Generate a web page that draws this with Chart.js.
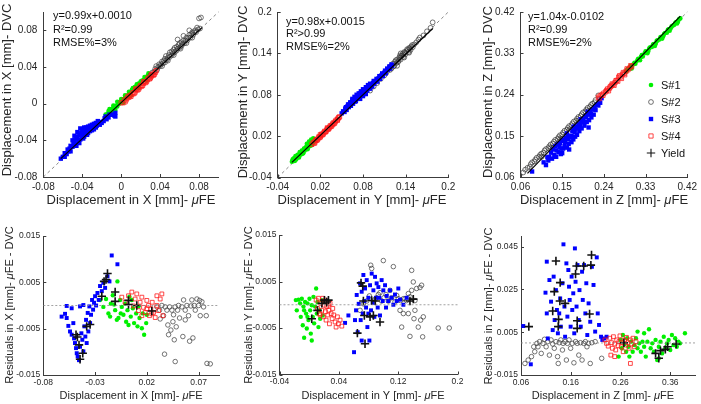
<!DOCTYPE html>
<html>
<head>
<meta charset="utf-8">
<script src="https://cdn.jsdelivr.net/npm/chart.js@4.4.1/dist/chart.umd.min.js"></script>
<style>
  html, body { margin: 0; padding: 0; background: #fff; }
  #wrap { position: relative; width: 701px; height: 404px; overflow: hidden; }
  #wrap canvas { position: absolute; left: 0; top: 0; }
</style>
</head>
<body>
<div id="wrap"></div>
<script>
// ---- tick labels ----
const fitXTicks = [-0.08, -0.04, 0, 0.04, 0.08];
const fitYTicks = [-0.04, 0.02, 0.08, 0.14, 0.2];
const fitZTicks = [0.06, 0.15, 0.24, 0.33, 0.42];
const resXTicksX = [-0.08, -0.03, 0.02, 0.07];
const resYTicksX = [-0.04, 0.04, 0.12, 0.2];
const resZTicksX = [0.06, 0.16, 0.26, 0.36];
const resTicksY = [-0.015, -0.005, 0.005, 0.015];
const resZTicksY = [-0.015, 0.005, 0.025, 0.045];

// ---- legend / annotation text ----
const seriesNames = ['S#1', 'S#2', 'S#3', 'S#4', 'Yield'];
const fitXNotes = ['y=0.99x+0.0010', 'R\u00B2=0.99', 'RMSE%=3%'];
const fitYNotes = ['y=0.98x+0.0015', 'R\u00B2>0.99', 'RMSE%=2%'];
const fitZNotes = ['y=1.04x-0.0102', 'R\u00B2=0.99', 'RMSE%=2%'];

// ---- top row: DVC vs muFE, X ----
const fitX_s1 = [[-0.016,-0.012],[-0.014,-0.011],[-0.013,-0.008],[-0.011,-0.009],[-0.010,-0.006],[-0.009,-0.008],[-0.008,-0.004],[-0.006,-0.004],[-0.005,-0.002],[-0.004,-0.003],[-0.003,0.001],[-0.002,0.000],[0.000,0.003],[0.001,0.002],[0.002,0.005],[0.004,0.006],[0.005,0.008],[0.007,0.009],[0.008,0.011],[0.010,0.012],[0.011,0.015],[0.013,0.016],[0.014,0.018],[0.016,0.019],[0.018,0.022],[0.019,0.021],[0.021,0.025],[0.023,0.026],[0.025,0.028],[0.027,0.030],[0.029,0.031],
  [-0.012,-0.006],[-0.008,-0.002],[-0.004,0.002],[0.000,0.005],[0.004,0.009],[0.008,0.013],[0.012,0.017],[0.016,0.021],[0.020,0.024],[0.024,0.029],[0.028,0.033],[-0.006,-0.007],[0.002,0.001],[0.010,0.009],[0.018,0.017],[0.026,0.025]];
const fitX_s2 = [[0.030,0.031],[0.032,0.034],[0.034,0.035],[0.035,0.038],[0.037,0.037],[0.038,0.040],[0.040,0.041],[0.041,0.043],[0.043,0.044],[0.044,0.047],[0.045,0.045],[0.046,0.052],[0.047,0.048],[0.048,0.050],[0.050,0.051],[0.050,0.056],[0.052,0.053],[0.053,0.055],[0.055,0.056],[0.055,0.061],[0.057,0.058],[0.058,0.060],[0.060,0.061],[0.060,0.066],[0.062,0.063],[0.063,0.065],[0.065,0.066],[0.066,0.069],[0.068,0.069],[0.069,0.072],[0.071,0.072],[0.072,0.076],[0.074,0.075],[0.075,0.078],[0.077,0.078],[0.079,0.081],[0.080,0.093],[0.082,0.094],[0.081,0.082],
  [0.036,0.041],[0.039,0.043],[0.042,0.046],[0.045,0.049],[0.049,0.053],[0.052,0.057],[0.054,0.059],[0.057,0.062],[0.059,0.064],[0.062,0.067],[0.064,0.069],[0.067,0.072],[0.070,0.075],[0.073,0.078],[0.076,0.080],[0.078,0.083],[0.042,0.041],[0.048,0.047],[0.054,0.053],[0.061,0.060],[0.067,0.066],[0.073,0.072],[0.070,0.080],[0.064,0.074],[0.058,0.070]];
const fitX_s3 = [[-0.062,-0.060],[-0.060,-0.058],[-0.058,-0.054],[-0.056,-0.055],[-0.055,-0.050],[-0.053,-0.049],[-0.052,-0.046],[-0.050,-0.047],[-0.049,-0.043],[-0.048,-0.040],[-0.047,-0.044],[-0.046,-0.038],[-0.045,-0.036],[-0.044,-0.041],[-0.043,-0.034],[-0.042,-0.039],[-0.041,-0.032],[-0.040,-0.035],[-0.039,-0.031],[-0.038,-0.036],[-0.037,-0.030],[-0.036,-0.033],[-0.035,-0.029],[-0.034,-0.032],[-0.033,-0.028],[-0.032,-0.030],[-0.031,-0.027],[-0.030,-0.029],[-0.029,-0.026],[-0.028,-0.028],[-0.027,-0.025],[-0.026,-0.026],[-0.025,-0.024],[-0.024,-0.022],[-0.022,-0.023],[-0.021,-0.020],[-0.020,-0.021],[-0.018,-0.019],[-0.017,-0.016],[-0.015,-0.017],[-0.013,-0.015],[-0.010,-0.012],[-0.007,-0.013],[-0.006,-0.010],
  [-0.045,-0.031],[-0.042,-0.027],[-0.040,-0.028],[-0.038,-0.026],[-0.036,-0.026],[-0.034,-0.025],[-0.032,-0.024],[-0.030,-0.023],[-0.028,-0.022],[-0.026,-0.021],[-0.024,-0.019],[-0.048,-0.035],[-0.050,-0.040],[-0.054,-0.052],[-0.058,-0.058],[-0.052,-0.052],[-0.046,-0.046],[-0.043,-0.043],[-0.039,-0.038],[-0.035,-0.034],[-0.016,-0.014],[-0.012,-0.012],[-0.008,-0.012],[-0.006,-0.014]];
const fitX_s4 = [[0.000,0.001],[0.002,0.001],[0.003,0.004],[0.005,0.004],[0.006,0.006],[0.008,0.007],[0.009,0.009],[0.011,0.010],[0.012,0.012],[0.013,0.011],[0.015,0.014],[0.016,0.016],[0.017,0.015],[0.019,0.018],[0.020,0.020],[0.021,0.019],[0.023,0.022],[0.024,0.024],[0.025,0.023],[0.027,0.026],[0.028,0.028],[0.029,0.027],[0.031,0.030],[0.032,0.032],[0.033,0.031],[0.035,0.034],[0.036,0.036],
  [0.004,0.002],[0.010,0.008],[0.014,0.012],[0.018,0.016],[0.022,0.020],[0.026,0.024],[0.030,0.028],[0.034,0.032],[0.007,0.008],[0.015,0.016],[0.023,0.024],[0.031,0.032]];
const fitX_line = [[-0.062,-0.060],[0.083,0.083]];
const fitX_unity = [[-0.08,-0.08],[0.1,0.1]];

// ---- top row: Y ----
const fitY_s1 = [[-0.020,-0.017],[-0.019,-0.014],[-0.018,-0.016],[-0.017,-0.012],[-0.016,-0.013],[-0.015,-0.011],[-0.014,-0.014],[-0.013,-0.009],[-0.012,-0.011],[-0.011,-0.008],[-0.010,-0.009],[-0.009,-0.005],[-0.008,-0.007],[-0.007,-0.004],[-0.006,-0.006],[-0.005,-0.002],[-0.004,-0.003],[-0.003,0.000],[-0.002,-0.001],[-0.001,0.003],[0.000,0.001],[0.001,0.004],[0.002,0.002],[0.003,0.006],[0.004,0.005],[0.005,0.008],[0.006,0.006],[0.007,0.010],[0.008,0.009],[0.009,0.012],[0.010,0.011],[0.012,0.014],
  [-0.018,-0.013],[-0.015,-0.009],[-0.012,-0.007],[-0.009,-0.003],[-0.006,-0.001],[-0.003,0.002],[0.000,0.004],[0.003,0.008],[0.006,0.010],[0.009,0.014],[-0.016,-0.016],[-0.010,-0.011],[-0.004,-0.005],[0.002,0.001],[0.008,0.007],[0.004,0.012],[0.007,0.015],[0.010,0.017],[0.001,0.009]];
const fitY_s2 = [[0.090,0.086],[0.095,0.092],[0.100,0.097],[0.105,0.103],[0.110,0.108],[0.113,0.112],[0.116,0.117],[0.118,0.121],[0.120,0.118],[0.122,0.125],[0.124,0.122],[0.125,0.128],[0.127,0.126],[0.128,0.131],[0.130,0.129],[0.131,0.134],[0.132,0.137],[0.133,0.131],[0.135,0.137],[0.136,0.140],[0.137,0.135],[0.138,0.142],[0.140,0.139],[0.141,0.143],[0.142,0.146],[0.144,0.142],[0.145,0.148],[0.147,0.145],[0.148,0.150],[0.150,0.149],[0.152,0.153],[0.155,0.156],[0.160,0.163],[0.165,0.166],[0.175,0.177],[0.178,0.185],
  [0.118,0.116],[0.123,0.121],[0.126,0.130],[0.129,0.127],[0.132,0.133],[0.134,0.136],[0.137,0.138],[0.139,0.141],[0.143,0.145],[0.146,0.147],[0.149,0.152],[0.128,0.122],[0.138,0.134],[0.145,0.141],[0.133,0.140],[0.158,0.160],[0.170,0.172]];
const fitY_s3 = [[0.050,0.053],[0.052,0.056],[0.054,0.055],[0.055,0.060],[0.057,0.058],[0.058,0.063],[0.060,0.062],[0.061,0.066],[0.063,0.064],[0.064,0.069],[0.065,0.072],[0.066,0.067],[0.068,0.073],[0.069,0.070],[0.070,0.076],[0.072,0.074],[0.073,0.078],[0.075,0.077],[0.076,0.082],[0.078,0.080],[0.079,0.084],[0.080,0.078],[0.082,0.086],[0.083,0.083],[0.085,0.088],[0.086,0.086],[0.088,0.091],[0.089,0.089],[0.091,0.094],[0.093,0.092],[0.094,0.097],[0.096,0.096],[0.098,0.100],[0.100,0.099],[0.102,0.104],[0.104,0.103],[0.106,0.108],[0.108,0.107],[0.110,0.112],[0.112,0.111],[0.115,0.116],[0.118,0.118],[0.121,0.122],
  [0.056,0.062],[0.059,0.066],[0.062,0.069],[0.065,0.074],[0.068,0.077],[0.071,0.080],[0.074,0.082],[0.077,0.085],[0.080,0.088],[0.084,0.091],[0.087,0.094],[0.090,0.096],[0.095,0.100],[0.099,0.103],[0.103,0.107],[0.107,0.111],[0.111,0.115],[0.114,0.118],[0.117,0.121],[0.120,0.124],[0.070,0.071],[0.080,0.080],[0.090,0.089],[0.084,0.081],[0.076,0.074]];
const fitY_s4 = [[0.008,0.008],[0.010,0.011],[0.011,0.010],[0.013,0.013],[0.014,0.015],[0.015,0.014],[0.017,0.017],[0.018,0.019],[0.019,0.018],[0.021,0.021],[0.022,0.023],[0.023,0.022],[0.025,0.025],[0.026,0.027],[0.027,0.026],[0.029,0.029],[0.030,0.031],[0.031,0.030],[0.033,0.033],[0.034,0.035],[0.035,0.034],[0.037,0.037],[0.038,0.039],[0.039,0.038],[0.041,0.041],[0.042,0.043],[0.044,0.044],[0.045,0.046],[0.047,0.048],
  [0.012,0.010],[0.016,0.015],[0.020,0.019],[0.024,0.023],[0.028,0.027],[0.032,0.031],[0.036,0.035],[0.040,0.039],[0.044,0.043],[0.046,0.047],[0.020,0.022],[0.030,0.032]];
const fitY_line = [[-0.020,-0.018],[0.178,0.176]];
const fitY_unity = [[-0.04,-0.04],[0.2,0.2]];

// ---- top row: Z ----
const fitZ_s1 = [[0.288,0.290],[0.292,0.296],[0.296,0.297],[0.300,0.301],[0.304,0.306],[0.308,0.307],[0.312,0.314],[0.316,0.316],[0.320,0.322],[0.324,0.323],[0.328,0.330],[0.332,0.333],[0.336,0.335],[0.340,0.343],[0.344,0.344],[0.348,0.350],[0.352,0.351],[0.356,0.358],[0.360,0.360],[0.364,0.366],[0.368,0.367],[0.372,0.374],[0.376,0.375],[0.380,0.382],[0.384,0.384],[0.388,0.390],[0.392,0.392],[0.396,0.398],[0.400,0.399],[0.405,0.406],
  [0.290,0.293],[0.298,0.302],[0.306,0.309],[0.314,0.318],[0.322,0.326],[0.330,0.334],[0.338,0.341],[0.346,0.349],[0.354,0.357],[0.362,0.365],[0.370,0.372],[0.378,0.381],[0.386,0.388],[0.394,0.396],[0.402,0.404],[0.300,0.297],[0.318,0.315],[0.334,0.330],[0.350,0.346],[0.366,0.362],[0.382,0.379],[0.398,0.395]];
const fitZ_s2 = [[0.066,0.070],[0.075,0.080],[0.080,0.082],[0.085,0.092],[0.090,0.094],[0.095,0.102],[0.100,0.104],[0.105,0.111],[0.110,0.113],[0.115,0.121],[0.120,0.123],[0.125,0.131],[0.130,0.133],[0.135,0.141],[0.140,0.143],[0.145,0.151],[0.150,0.153],[0.155,0.161],[0.160,0.163],[0.165,0.171],[0.170,0.173],[0.175,0.181],[0.180,0.183],[0.185,0.191],[0.190,0.193],[0.195,0.201],[0.200,0.203],[0.205,0.211],[0.210,0.213],[0.215,0.220],[0.220,0.223],[0.228,0.238],
  [0.070,0.076],[0.082,0.088],[0.092,0.098],[0.102,0.108],[0.112,0.118],[0.122,0.127],[0.132,0.137],[0.142,0.147],[0.152,0.157],[0.162,0.167],[0.172,0.177],[0.182,0.187],[0.192,0.197],[0.202,0.207],[0.212,0.217],[0.222,0.228],[0.106,0.104],[0.126,0.124],[0.146,0.144],[0.166,0.164],[0.186,0.184],[0.206,0.204]];
const fitZ_s3 = [[0.085,0.072],[0.110,0.092],[0.115,0.086],[0.118,0.103],[0.122,0.104],[0.126,0.113],[0.128,0.100],[0.130,0.120],[0.133,0.108],[0.135,0.127],[0.137,0.104],[0.140,0.131],[0.142,0.114],[0.145,0.134],[0.147,0.110],[0.150,0.139],[0.150,0.112],[0.152,0.122],[0.154,0.142],[0.155,0.128],[0.158,0.145],[0.160,0.124],[0.162,0.150],[0.164,0.132],[0.165,0.120],[0.166,0.148],[0.168,0.146],[0.170,0.136],[0.172,0.160],[0.174,0.142],[0.176,0.163],[0.178,0.148],[0.180,0.170],[0.182,0.152],[0.185,0.175],[0.187,0.160],[0.190,0.180],[0.192,0.166],[0.195,0.186],[0.198,0.172],[0.200,0.192],[0.203,0.180],[0.205,0.196],[0.207,0.168],[0.208,0.184],[0.210,0.202],[0.213,0.190],[0.215,0.207],[0.218,0.196],[0.220,0.212],[0.225,0.218],[0.230,0.226],[0.235,0.232],
  [0.120,0.096],[0.138,0.118],[0.144,0.126],[0.148,0.122],[0.156,0.136],[0.163,0.142],[0.170,0.150],[0.177,0.158],[0.184,0.166],[0.189,0.172],[0.196,0.180],[0.202,0.190],[0.212,0.198],[0.222,0.206],[0.228,0.216],[0.232,0.222],[0.160,0.155],[0.175,0.170],[0.190,0.186],[0.205,0.202]];
const fitZ_s4 = [[0.228,0.234],[0.232,0.237],[0.236,0.240],[0.240,0.243],[0.244,0.246],[0.248,0.252],[0.252,0.254],[0.256,0.259],[0.260,0.262],[0.262,0.260],[0.264,0.266],[0.268,0.271],[0.270,0.269],[0.272,0.278],[0.276,0.278],[0.280,0.284],[0.284,0.286],[0.285,0.283],[0.288,0.291],[0.292,0.294],[0.296,0.298],[0.300,0.301],
  [0.230,0.231],[0.238,0.238],[0.246,0.249],[0.254,0.257],[0.258,0.263],[0.266,0.270],[0.274,0.281],[0.282,0.288],[0.290,0.296],[0.298,0.303],[0.250,0.248],[0.278,0.275]];
const fitZ_line = [[0.075,0.068],[0.405,0.411]];
const fitZ_unity = [[0.06,0.06],[0.42,0.42]];

// ---- bottom row: residuals X ----
const resX_s1 = [[-0.0252,0.0012],[-0.022,-0.0003],[-0.0194,0.0014],[-0.0171,-0.0017],[-0.0155,-0.0024],[-0.0148,0.0004],[-0.0129,0.0022],[-0.0116,0.0002],[-0.0106,-0.001],[-0.009,-0.0031],[-0.0084,0.0052],[-0.0074,-0.0027],[-0.0058,0.0012],[-0.0052,-0.0017],[-0.0042,-0.0003],[-0.0026,-0.002],[-0.001,0.0004],[0.0,-0.0035],[0.0013,-0.001],[0.0023,-0.0042],[0.0032,0.0019],[0.0045,-0.0024],[0.0055,0.0012],[0.0065,-0.0006],[0.0077,-0.0038],[0.0097,-0.0017],[0.011,-0.0045],[0.012,-0.0002],[0.0129,-0.0027],[0.0152,-0.0049],[0.0161,-0.0017],[0.0174,-0.0063],[0.0194,-0.0038],[0.02,-0.002]];
const resX_s2 = [[0.0297,-0.0003],[0.0323,-0.001],[0.0329,-0.0029],[0.0345,0.0],[0.0361,-0.0022],[0.0371,-0.0105],[0.0377,-0.0003],[0.0394,-0.001],[0.0403,-0.0042],[0.041,-0.0063],[0.042,-0.0003],[0.0432,-0.0053],[0.0442,-0.001],[0.0452,-0.0035],[0.0458,-0.002],[0.0465,-0.0074],[0.0474,-0.0003],[0.0474,-0.0121],[0.0484,-0.0046],[0.0497,-0.001],[0.0506,0.0],[0.0516,-0.0027],[0.0539,-0.0003],[0.0548,-0.0067],[0.0555,0.0012],[0.0571,-0.001],[0.0571,-0.0031],[0.0587,0.0],[0.0603,-0.0022],[0.0613,-0.0077],[0.0626,-0.0001],[0.0635,0.0012],[0.0645,-0.007],[0.0658,0.0],[0.0668,-0.001],[0.0684,0.0014],[0.07,0.0],[0.071,0.0011],[0.0716,-0.0022],[0.0732,0.0008],[0.0748,-0.0003],[0.0774,-0.0022],[0.0781,-0.0125],[0.0813,-0.0126]];
const resX_s3 = [[-0.0623,-0.0024],[-0.059,-0.0018],[-0.0574,-0.0027],[-0.0574,-0.0001],[-0.0558,-0.0044],[-0.0542,-0.0056],[-0.0526,-0.0063],[-0.0526,-0.0006],[-0.051,-0.0038],[-0.0503,-0.0071],[-0.0494,-0.0081],[-0.0484,-0.0092],[-0.0477,-0.0103],[-0.0468,-0.011],[-0.0455,-0.0118],[-0.0445,-0.0089],[-0.0445,-0.0002],[-0.0432,-0.006],[-0.0423,-0.0074],[-0.0413,-0.0099],[-0.0413,0.0001],[-0.0403,-0.0045],[-0.0394,-0.0067],[-0.0387,-0.0031],[-0.0381,-0.0081],[-0.0371,-0.0016],[-0.0365,-0.0056],[-0.0355,-0.0002],[-0.0348,-0.0038],[-0.0339,-0.002],[-0.0329,0.0012],[-0.0319,-0.0009],[-0.031,0.0006],[-0.03,0.002],[-0.029,0.0],[-0.0277,0.0027],[-0.0265,0.0012],[-0.0252,0.0042],[-0.0235,0.0031],[-0.022,0.0049],[-0.0203,0.0038],[-0.018,0.0063],[-0.0161,0.0052],[-0.0139,0.0108],[-0.0084,0.0089]];
const resX_s4 = [[-0.0042,0.0018],[-0.001,0.0007],[0.0023,0.0021],[0.0055,0.0029],[0.0071,-0.0001],[0.0087,0.0014],[0.0103,0.0025],[0.0119,-0.0011],[0.0135,0.0007],[0.0152,0.0018],[0.0152,-0.0022],[0.0168,-0.0004],[0.0184,-0.0015],[0.02,0.0011],[0.02,-0.0007],[0.0216,0.0],[0.0226,-0.0022],[0.0239,-0.0007],[0.0248,-0.0018],[0.0252,0.0007],[0.0265,-0.0015],[0.0281,-0.0026],[0.0297,0.0],[0.0297,0.0021],[0.0313,-0.0011],[0.0329,0.0014],[0.0345,0.0025],[0.0355,-0.0022]];
const resX_yield = [[-0.0484,-0.0063],[-0.0471,-0.0068],[-0.0455,-0.0085],[-0.0445,-0.0116],[-0.0419,-0.0103],[-0.0381,-0.0045],[-0.0348,-0.0041],[-0.0235,0.002],[-0.0213,0.0052],[-0.0194,0.0056],[-0.018,0.0069],[-0.0106,0.0029],[-0.0106,0.0009],[0.0023,0.0011],[0.0023,0.0002],[0.0103,0.0],[0.0248,-0.0012]];
const resX_zero = [[-0.08,0],[0.09,0]];

// ---- bottom row: residuals Y ----
const resY_s1 = [[-0.018,0.001],[-0.0167,-0.0012],[-0.0144,0.0011],[-0.0122,0.0003],[-0.0113,-0.0026],[-0.0099,0.0013],[-0.0086,-0.0044],[-0.0077,-0.0004],[-0.0068,-0.0071],[-0.0068,-0.0012],[-0.0055,0.0006],[-0.0041,-0.0019],[-0.0032,-0.0051],[-0.0023,0.0003],[-0.0023,-0.0026],[-0.001,-0.0033],[0.0004,0.0013],[0.0013,-0.0012],[0.0022,-0.0062],[0.0035,-0.0001],[0.0035,-0.0077],[0.0049,-0.0026],[0.0058,0.0017],[0.0067,-0.004],[0.008,-0.0004],[0.0094,0.0035],[0.0103,-0.0019],[0.0112,0.0006],[0.0125,-0.0048],[0.0139,-0.0012],[0.0148,-0.003],[0.017,0.001],[0.0183,-0.0023]];
const resY_s2 = [[0.0686,-0.0012],[0.0731,0.0002],[0.0776,0.0008],[0.0812,0.0019],[0.083,0.0085],[0.0843,0.0078],[0.0866,0.0008],[0.0888,0.0012],[0.091,0.0015],[0.0933,0.0022],[0.0955,0.0026],[0.0977,0.0008],[0.1,0.0095],[0.1009,0.0015],[0.1036,0.0022],[0.1067,0.0008],[0.109,0.0031],[0.1112,0.0015],[0.1135,0.0082],[0.1157,0.0006],[0.118,0.002],[0.1202,0.0013],[0.1225,-0.0012],[0.1234,0.0009],[0.1247,-0.0048],[0.127,0.0013],[0.127,-0.0019],[0.1292,0.0013],[0.1314,0.0009],[0.1337,0.0024],[0.1337,-0.0019],[0.1359,0.0017],[0.1359,-0.0068],[0.1382,0.0074],[0.1382,0.0031],[0.1404,0.0049],[0.1413,-0.003],[0.1426,0.0009],[0.1426,-0.0012],[0.1449,0.0035],[0.1471,-0.0048],[0.1494,0.0037],[0.1503,-0.0033],[0.1516,0.0042],[0.153,-0.0069],[0.1539,-0.0026],[0.174,-0.005],[0.1889,-0.005]];
const resY_s3 = [[0.0484,-0.0039],[0.0529,-0.0023],[0.0605,-0.0102],[0.0618,-0.0033],[0.0632,-0.0012],[0.0641,0.0021],[0.0654,-0.0059],[0.0668,0.0002],[0.0686,0.0046],[0.0695,-0.0033],[0.0708,0.0028],[0.0708,-0.0077],[0.0722,-0.0019],[0.0731,0.0064],[0.0744,0.0008],[0.0753,0.0035],[0.0767,-0.0006],[0.0776,0.0053],[0.0785,-0.0048],[0.0798,0.0015],[0.0798,-0.0019],[0.0812,-0.0077],[0.0821,0.0042],[0.0834,-0.0012],[0.0843,0.0067],[0.0857,0.0004],[0.0866,0.0031],[0.0879,-0.0026],[0.0888,0.006],[0.0901,0.0015],[0.091,0.0046],[0.0924,-0.0006],[0.0933,0.0038],[0.0946,0.0015],[0.0955,-0.0023],[0.0977,0.0053],[0.0991,0.0008],[0.1,0.0031],[0.1023,0.0042],[0.1036,-0.0006],[0.1045,0.0019],[0.1067,0.0008],[0.109,0.0031],[0.1112,0.0015],[0.1135,0.0],[0.1157,0.0022],[0.118,0.0008],[0.1202,0.0035],[0.1225,0.0011],[0.127,0.0],[0.1314,0.0015]];
const resY_s4 = [[0.0094,0.001],[0.0112,-0.0008],[0.0125,0.0014],[0.0139,-0.0019],[0.0148,-0.0022],[0.0156,0.0003],[0.017,-0.0012],[0.0183,0.0014],[0.0192,-0.0026],[0.0206,-0.0001],[0.0215,0.001],[0.0219,-0.0015],[0.0228,-0.0033],[0.0237,-0.0004],[0.0251,-0.0022],[0.026,-0.0001],[0.0264,-0.0012],[0.0273,-0.0041],[0.0282,0.0003],[0.0296,-0.0019],[0.031,-0.003],[0.0318,-0.0008],[0.0332,-0.0022],[0.035,-0.0037],[0.0363,-0.0048],[0.0381,-0.0026],[0.0394,-0.0041],[0.0417,-0.0033],[0.044,-0.0046]];
const resY_yield = [[0.0035,-0.003],[0.0112,-0.0012],[0.017,0.0003],[0.0206,0.001],[0.0237,0.0006],[0.026,0.001],[0.065,-0.0061],[0.0699,0.0047],[0.0722,0.004],[0.0731,0.0008],[0.0744,-0.0023],[0.0753,-0.0084],[0.0821,-0.0026],[0.0843,0.0009],[0.0866,-0.0023],[0.0892,0.0008],[0.0955,-0.0037],[0.1359,0.0008],[0.1404,0.0012]];
const resY_zero = [[-0.04,0],[0.2,0]];

// ---- bottom row: residuals Z ----
const resZ_s1 = [[0.2562,-0.0064],[0.2601,0.0014],[0.2627,-0.0025],[0.2647,0.0037],[0.268,-0.0005],[0.2713,-0.0041],[0.2733,0.0022],[0.2759,-0.0018],[0.2778,-0.0064],[0.2811,0.0006],[0.2844,-0.0041],[0.2877,-0.001],[0.291,0.0022],[0.2942,-0.0025],[0.2942,0.0053],[0.2975,-0.0002],[0.3008,-0.0041],[0.3041,0.0006],[0.3074,-0.0018],[0.3074,0.0045],[0.3107,-0.0064],[0.3139,0.0006],[0.3172,0.0064],[0.3205,-0.0025],[0.3238,-0.0002],[0.3271,-0.0041],[0.3304,0.0014],[0.3336,-0.008],[0.3369,-0.0018],[0.3369,-0.0072],[0.3402,0.0006],[0.3435,-0.0049],[0.3468,0.0029],[0.35,-0.0025],[0.3533,-0.0002],[0.3566,0.0014],[0.3599,-0.0033],[0.3632,0.0037],[0.3664,-0.001],[0.3697,0.0022],[0.373,-0.0018],[0.3763,0.0006],[0.3796,-0.0002],[0.3894,0.0045]];
const resZ_s2 = [[0.0679,-0.0096],[0.0744,-0.008],[0.081,-0.0064],[0.0856,-0.0018],[0.0876,-0.0041],[0.0921,-0.0002],[0.0941,-0.0018],[0.0974,0.0006],[0.1007,-0.0049],[0.104,-0.0002],[0.1072,0.0017],[0.1105,-0.0018],[0.1138,0.0006],[0.1171,-0.0057],[0.1204,0.0014],[0.1237,-0.0005],[0.1269,-0.0025],[0.1302,0.0006],[0.1335,-0.0064],[0.1348,-0.0096],[0.1368,0.0001],[0.14,0.0014],[0.1433,-0.0033],[0.1446,-0.0002],[0.1486,0.0006],[0.1512,-0.008],[0.1532,-0.0002],[0.1565,0.0014],[0.1597,-0.0025],[0.163,-0.0002],[0.1663,-0.0093],[0.1696,0.0006],[0.1729,-0.0002],[0.1761,-0.0057],[0.1794,0.0001],[0.1827,-0.008],[0.186,-0.0002],[0.1893,0.0006],[0.1925,-0.0018],[0.1958,-0.0002],[0.1991,-0.0096],[0.2024,0.0001],[0.209,0.0006],[0.2221,-0.0072]];
const resZ_s3 = [[0.0646,0.0079],[0.0797,-0.01],[0.1092,0.0235],[0.1118,0.038],[0.1118,0.0138],[0.1138,0.0021],[0.1171,0.0294],[0.1204,0.0193],[0.1237,0.006],[0.1256,0.031],[0.1276,0.0107],[0.1302,0.0247],[0.1322,0.0154],[0.1341,0.0045],[0.1368,0.0138],[0.1387,0.0208],[0.14,0.0076],[0.1433,0.0279],[0.1453,0.0461],[0.1473,0.017],[0.1486,0.0029],[0.1512,0.0372],[0.1532,0.0123],[0.1551,0.0341],[0.1565,0.0263],[0.1578,0.0201],[0.1597,0.0076],[0.1617,0.031],[0.163,0.0154],[0.165,0.0232],[0.167,0.0045],[0.1683,0.0442],[0.1696,0.0286],[0.1716,0.017],[0.1735,0.0364],[0.1761,0.0107],[0.1775,0.0247],[0.1801,0.0076],[0.1827,0.0333],[0.1841,0.0201],[0.1867,0.0364],[0.1893,0.0138],[0.1912,0.0279],[0.1932,0.0037],[0.1958,0.0185],[0.1991,0.0099],[0.2024,0.0356],[0.2057,0.0271],[0.209,0.0053],[0.2122,0.04],[0.2142,0.0138],[0.2168,0.0084],[0.2208,0.0029],[0.2234,0.0014],[0.2273,0.0021],[0.2319,0.0029]];
const resZ_s4 = [[0.2286,0.0014],[0.2319,-0.0002],[0.2352,-0.0015],[0.2385,0.0022],[0.2405,-0.0057],[0.2418,0.0001],[0.2437,-0.0025],[0.2457,0.0029],[0.2483,-0.0005],[0.2483,-0.0064],[0.2503,-0.0033],[0.2523,0.0014],[0.2549,-0.0013],[0.2568,0.0006],[0.2588,0.0033],[0.2614,-0.0018],[0.2634,0.0001],[0.2654,-0.0041],[0.268,0.0014],[0.27,-0.001],[0.2719,0.0026],[0.2746,0.0001],[0.2772,-0.0025],[0.2798,0.0014],[0.2798,-0.0096],[0.2824,-0.0005],[0.285,0.0022],[0.2877,-0.0018],[0.291,0.0006]];
const resZ_yield = [[0.0757,0.0076],[0.1237,0.0149],[0.1269,0.024],[0.1302,0.0383],[0.1348,0.0076],[0.1355,0.011],[0.1381,0.0196],[0.1387,0.0282],[0.1486,0.0185],[0.1696,0.0322],[0.1716,0.036],[0.1729,0.0104],[0.1729,0.0068],[0.186,0.036],[0.1978,0.0135],[0.2004,0.0364],[0.2017,0.0411],[0.2667,0.0001],[0.3304,-0.0049],[0.3369,-0.0072],[0.3402,-0.0036],[0.35,-0.003],[0.3546,-0.0018],[0.3717,-0.0005]];
const resZ_zero = [[0.06,0],[0.41,0]];

// ---- drawing ----
const W = 701, H = 404;
const YBOX = 40, XBOX = 24;   // room kept for tick labels
const FONT = '"Liberation Sans", Arial, Helvetica, sans-serif';
const INK = '#262626';
const AXIS = '#3c3c3c';
Chart.defaults.font.family = FONT;

const MARK = {
  s1: { pointStyle: 'circle', fill: '#00f000', stroke: '#00f000', r: 2.3, bw: 0 },
  s2: { pointStyle: 'circle', fill: 'rgba(0,0,0,0)', stroke: '#3a3a3a', r: 2.4, bw: 0.7 },
  s3: { pointStyle: 'rect', fill: '#0000ff', stroke: '#0000ff', r: 3.1, bw: 0 },
  s4: { pointStyle: 'rect', fill: 'rgba(0,0,0,0)', stroke: '#ff1a1a', r: 3.0, bw: 0.8 },
  yield: { pointStyle: 'cross', fill: '#111', stroke: '#111', r: 4.2, bw: 1.6 }
};

function pts(arr) { return arr.map(p => ({ x: p[0], y: p[1] })); }

function markers(arr, key, order, scale) {
  const m = MARK[key];
  return {
    data: pts(arr), order: order, showLine: false, clip: false,
    pointStyle: m.pointStyle, pointRadius: m.r * scale, pointHoverRadius: m.r * scale,
    pointBackgroundColor: m.fill, pointBorderColor: m.stroke, pointBorderWidth: m.bw
  };
}

function line(arr, color, width, dash, order) {
  return {
    data: pts(arr), order: order, showLine: true, pointRadius: 0, clip: false,
    borderColor: color, borderWidth: width, borderDash: dash
  };
}

function axisCfg(axis, min, max, ticks, size, pad) {
  return {
    type: 'linear', position: axis === 'x' ? 'bottom' : 'left', min: min, max: max,
    grid: { display: false, drawTicks: false },
    border: { display: true, color: AXIS, width: 1 },
    afterBuildTicks: s => { s.ticks = ticks.map(v => ({ value: v })); },
    afterFit: s => { if (axis === 'x') s.height = XBOX; else s.width = YBOX; },
    ticks: {
      autoSkip: false, maxRotation: 0, minRotation: 0, padding: pad, color: INK,
      font: { family: FONT, size: size },
      callback: v => String(v)
    }
  };
}

function titleParts(txt) {
  // split around mu so it can be italic
  const i = txt.indexOf('\u03BC');
  if (i < 0) return [{ t: txt }];
  return [{ t: txt.slice(0, i) }, { t: '\u03BC', it: true }, { t: txt.slice(i + 1) }];
}

function richText(ctx, txt, size, x, y, vertical) {
  const parts = titleParts(txt);
  ctx.save();
  ctx.translate(x, y);
  if (vertical) ctx.rotate(-Math.PI / 2);
  ctx.textBaseline = 'middle';
  ctx.textAlign = 'left';
  ctx.fillStyle = INK;
  let total = 0;
  const widths = parts.map(p => {
    ctx.font = (p.it ? 'italic ' : '') + size + 'px ' + FONT;
    const w = ctx.measureText(p.t).width;
    total += w;
    return w;
  });
  let cx = -total / 2;
  parts.forEach((p, k) => {
    ctx.font = (p.it ? 'italic ' : '') + size + 'px ' + FONT;
    ctx.fillText(p.t, cx, 0);
    cx += widths[k];
  });
  ctx.restore();
}

function drawMarker(ctx, key, x, y) {
  const m = MARK[key];
  ctx.save();
  ctx.fillStyle = m.fill;
  ctx.strokeStyle = m.stroke;
  ctx.lineWidth = m.bw;
  ctx.beginPath();
  if (m.pointStyle === 'circle') {
    ctx.arc(x, y, m.r, 0, Math.PI * 2);
    ctx.fill();
    if (m.bw) ctx.stroke();
  } else if (m.pointStyle === 'rect') {
    const s = m.r * Math.SQRT1_2;
    ctx.rect(x - s, y - s, 2 * s, 2 * s);
    ctx.fill();
    if (m.bw) ctx.stroke();
  } else {
    ctx.moveTo(x - m.r, y); ctx.lineTo(x + m.r, y);
    ctx.moveTo(x, y - m.r); ctx.lineTo(x, y + m.r);
    ctx.lineWidth = 1.1;
    ctx.stroke();
  }
  ctx.restore();
}

function decoPlugin(p) {
  return {
    id: 'deco',
    afterDraw(chart) {
      const ctx = chart.ctx;
      const { left, bottom } = chart.chartArea;
      const sx = chart.scales.x, sy = chart.scales.y;
      // inward tick marks like the original
      ctx.save();
      ctx.strokeStyle = AXIS;
      ctx.lineWidth = 1;
      sx.ticks.forEach(t => {
        const px = Math.round(sx.getPixelForValue(t.value)) + 0.5;
        ctx.beginPath(); ctx.moveTo(px, bottom); ctx.lineTo(px, bottom - p.tick); ctx.stroke();
      });
      sy.ticks.forEach(t => {
        const py = Math.round(sy.getPixelForValue(t.value)) + 0.5;
        ctx.beginPath(); ctx.moveTo(left, py); ctx.lineTo(left + p.tick, py); ctx.stroke();
      });
      ctx.restore();

      richText(ctx, p.xTitle, p.titleSize, p.xTitleAt[0], p.xTitleAt[1], false);
      richText(ctx, p.yTitle, p.titleSize, p.yTitleAt[0], p.yTitleAt[1], true);

      if (p.notes) {
        ctx.save();
        ctx.fillStyle = '#111';
        ctx.font = '11px ' + FONT;
        ctx.textBaseline = 'middle';
        ctx.textAlign = 'left';
        p.notes.forEach((s, k) => ctx.fillText(s, p.notesAt[0], p.notesAt[1] + k * p.notesGap));
        ctx.restore();
      }
      if (p.legend) {
        const keys = ['s1', 's2', 's3', 's4', 'yield'];
        const rows = [85, 102, 119, 136, 153];
        ctx.save();
        ctx.font = '11px ' + FONT;
        ctx.textBaseline = 'middle';
        ctx.textAlign = 'left';
        keys.forEach((k, i) => {
          drawMarker(ctx, k, 651, rows[i]);
          ctx.fillStyle = '#111';
          ctx.fillText(seriesNames[i], 661, rows[i] + 0.5);
        });
        ctx.restore();
      }
    }
  };
}

function makePanel(p) {
  const canvas = document.createElement('canvas');
  canvas.width = W; canvas.height = H;
  canvas.style.width = W + 'px'; canvas.style.height = H + 'px';
  document.getElementById('wrap').appendChild(canvas);
  new Chart(canvas.getContext('2d'), {
    type: 'scatter',
    data: { datasets: p.datasets },
    options: {
      responsive: false, animation: false, events: [],
      devicePixelRatio: 1,
      layout: { padding: { left: p.box[0] - YBOX, top: p.box[2], right: W - p.box[1], bottom: H - p.box[3] - XBOX } },
      scales: {
        x: axisCfg('x', p.xr[0], p.xr[1], p.xt, p.tickSize, p.xPad),
        y: axisCfg('y', p.yr[0], p.yr[1], p.yt, p.tickSize, p.yPad)
      },
      plugins: { legend: { display: false }, tooltip: { enabled: false } }
    },
    plugins: [decoPlugin(p)]
  });
}

function fitSets(s1, s2, s3, s4, fit, unity) {
  return [
    line(fit, '#000', 1.2, [], 0),
    markers(s4, 's4', 2, 1), markers(s3, 's3', 3, 1),
    markers(s2, 's2', 4, 1), markers(s1, 's1', 5, 1),
    line(unity, '#555', 0.7, [3, 3], 9)
  ];
}
function resSets(s1, s2, s3, s4, yl, zero) {
  return [
    line(zero, '#8a8a8a', 0.8, [2, 2], 0),
    markers(yl, 'yield', 1, 1),
    markers(s4, 's4', 2, 0.9), markers(s3, 's3', 3, 0.9),
    markers(s2, 's2', 4, 0.95), markers(s1, 's1', 5, 0.95)
  ];
}

const topRow = { tickSize: 10, xPad: 4, yPad: 6, titleSize: 13, tick: 3 };
const botRow = { tickSize: 8.5, xPad: 2.5, yPad: 3, titleSize: 11, tick: 3 };

makePanel(Object.assign({}, topRow, {
  box: [43.3, 218.5, 4.3, 177], xr: [-0.08, 0.1], yr: [-0.08, 0.1], xt: fitXTicks, yt: fitXTicks,
  datasets: fitSets(fitX_s1, fitX_s2, fitX_s3, fitX_s4, fitX_line, fitX_unity),
  xTitle: 'Displacement in X [mm]- \u03BCFE', xTitleAt: [131, 200],
  yTitle: 'Displacement in X [mm]- DVC', yTitleAt: [7.5, 90],
  notes: fitXNotes, notesAt: [53, 16], notesGap: 13.5
}));
makePanel(Object.assign({}, topRow, {
  box: [277.7, 448.3, 10, 177.5], xr: [-0.04, 0.2], yr: [-0.04, 0.2], xt: fitYTicks, yt: fitYTicks,
  datasets: fitSets(fitY_s1, fitY_s2, fitY_s3, fitY_s4, fitY_line, fitY_unity),
  xTitle: 'Displacement in Y [mm]- \u03BCFE', xTitleAt: [362, 200],
  yTitle: 'Displacement in Y [mm]- DVC', yTitleAt: [243.5, 92],
  notes: fitYNotes, notesAt: [286, 22], notesGap: 12.3
}));
makePanel(Object.assign({}, topRow, {
  box: [520.5, 688.8, 8.3, 177], xr: [0.06, 0.42], yr: [0.06, 0.42], xt: fitZTicks, yt: fitZTicks,
  datasets: fitSets(fitZ_s1, fitZ_s2, fitZ_s3, fitZ_s4, fitZ_line, fitZ_unity),
  xTitle: 'Displacement in Z [mm]- \u03BCFE', xTitleAt: [604, 200],
  yTitle: 'Displacement in Z [mm]- DVC', yTitleAt: [488.5, 92],
  notes: fitZNotes, notesAt: [528, 17], notesGap: 13, legend: true
}));
makePanel(Object.assign({}, botRow, {
  box: [43.3, 219.3, 236, 375], xr: [-0.08, 0.09], yr: [-0.015, 0.015], xt: resXTicksX, yt: resTicksY,
  datasets: resSets(resX_s1, resX_s2, resX_s3, resX_s4, resX_yield, resX_zero),
  xTitle: 'Displacement in X [mm]- \u03BCFE', xTitleAt: [131, 395.5],
  yTitle: 'Residuals in X [mm]- \u03BCFE - DVC', yTitleAt: [10, 305]
}));
makePanel(Object.assign({}, botRow, {
  box: [279.5, 457.5, 235, 374.5], xr: [-0.04, 0.2], yr: [-0.015, 0.015], xt: resYTicksX, yt: resTicksY,
  datasets: resSets(resY_s1, resY_s2, resY_s3, resY_s4, resY_yield, resY_zero),
  xTitle: 'Displacement in Y [mm]- \u03BCFE', xTitleAt: [373, 395.5],
  yTitle: 'Residuals in Y [mm]- \u03BCFE - DVC', yTitleAt: [248.5, 305]
}));
makePanel(Object.assign({}, botRow, {
  box: [521, 699, 236, 375], xr: [0.06, 0.41], yr: [-0.015, 0.05], xt: resZTicksX, yt: resZTicksY,
  datasets: resSets(resZ_s1, resZ_s2, resZ_s3, resZ_s4, resZ_yield, resZ_zero),
  xTitle: 'Displacement in Z [mm]- \u03BCFE', xTitleAt: [603, 395.5],
  yTitle: 'Residuals in Z [mm]- \u03BCFE - DVC', yTitleAt: [488.5, 306]
}));
</script>
</body>
</html>
